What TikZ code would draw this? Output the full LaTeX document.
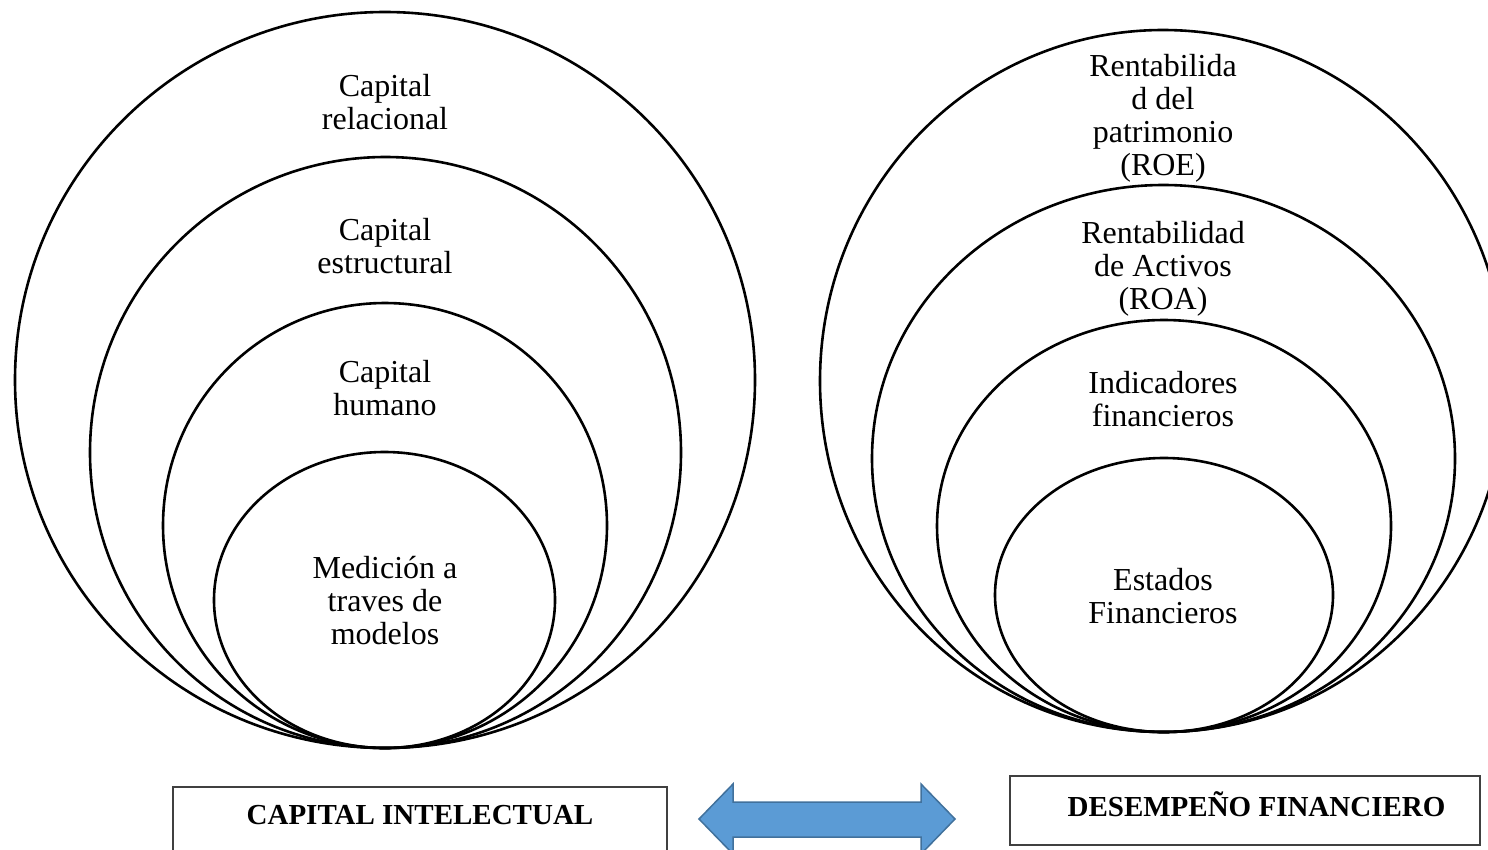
\documentclass[tikz,border=0pt]{standalone}
\usepackage{fontspec}
\setmainfont{Liberation Serif}
\definecolor{arrowfill}{HTML}{5B9BD5}
\definecolor{arrowline}{HTML}{41719C}
\definecolor{boxline}{HTML}{404040}
\begin{document}
\begin{tikzpicture}[x=1pt,y=-1pt,
  ring/.style={draw=black,line width=2.6pt},
  lbl/.style={align=center,inner sep=0pt,font=\fontsize{32}{33}\selectfont},
  title/.style={inner sep=0pt,font=\fontsize{29}{33}\selectfont\bfseries},
  framebox/.style={draw=boxline,line width=1.3pt}]
\clip (0,0) rectangle (1488,849);
\fill[white] (0,0) rectangle (1488,849);
% left rings
\draw[ring] (385,380) ellipse (370 and 368);
\draw[ring] (385.5,452.5) ellipse (295.5 and 295.5);
\draw[ring] (385,525.5) ellipse (222 and 222.5);
\draw[ring] (384.5,600) ellipse (170.5 and 148);
% right rings
\draw[ring] (1163,381) ellipse (343 and 351);
\draw[ring] (1163.5,458.5) ellipse (291.5 and 273.5);
\draw[ring] (1164,526) ellipse (227 and 206);
\draw[ring] (1164,595) ellipse (169 and 137);
% left labels
\node[lbl] (l1) at (385,102) {Capital\\relacional};
\node[lbl] (l2) at (385,246) {Capital\\estructural};
\node[lbl] (l3) at (385,388) {Capital\\humano};
\node[lbl] (l4) at (385,600.5) {Medición a\\traves de\\modelos};
% right labels
\node[lbl] (r1) at (1163,118.5) {Rentabilida\\d del\\patrimonio\\(ROE)};
\node[lbl] (r2) at (1163,269) {Rentabilidad\\de Activos\\(ROA)};
\node[lbl] (r3) at (1163,399) {Indicadores\\financieros};
\node[lbl] (r4) at (1163,596) {Estados\\Financieros};
% boxes
\draw[framebox] (173,787) rectangle (667,870);
\draw[framebox] (1010,776) rectangle (1480,845);
\node[title] (t1) at (420,815) {CAPITAL INTELECTUAL};
\node[title] (t2) at (1256.5,804) {DESEMPEÑO FINANCIERO};
% double arrow
\draw[fill=arrowfill,draw=arrowline,line width=1.5pt,line join=miter]
  (699,819) -- (733,784) -- (733,802) -- (921,802) -- (921,784) -- (955,819)
  -- (921,854) -- (921,837) -- (733,837) -- (733,854) -- cycle;
\end{tikzpicture}
\end{document}
